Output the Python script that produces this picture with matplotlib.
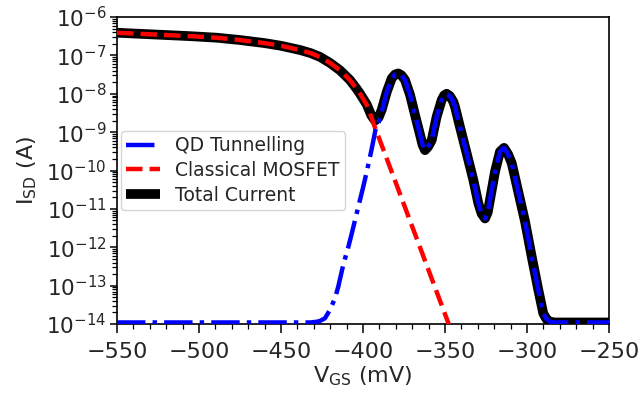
import numpy as np
import matplotlib
matplotlib.use("Agg")
import matplotlib.pyplot as plt
from matplotlib.ticker import MultipleLocator, LogLocator, NullFormatter, FixedLocator

# ---- data (log10 of current in A) ----
v_total = [-550, -520, -505, -489, -475, -460, -450, -438.4, -432, -426.2, -420, -414,
           -408, -403.9, -401.8, -397.7,
           -395, -392.7, -390.5, -388.6, -385.5, -382.5, -380.5, -378.5, -376.5,
           -374.4, -371.3, -368.3, -365.2, -363.7, -362.2, -360.3, -358.1, -355.1,
           -352, -350.5, -349, -347, -344.9, -343.9, -340.9, -336.8, -332.7, -329.7,
           -327.7, -325.6, -324, -322.6, -319.5, -316.5, -314, -311.5, -309.3, -305.3,
           -301.2, -297.1, -293.1, -290.1, -288, -286, -283, -250]
log_total = [-6.41, -6.47, -6.50, -6.54, -6.60, -6.68, -6.75, -6.86, -6.94, -7.04, -7.20, -7.39,
             -7.64, -7.87, -8.00, -8.28,
             -8.56, -8.70, -8.62, -8.42, -7.95, -7.60, -7.50, -7.47, -7.52,
             -7.64, -8.03, -8.55, -9.07, -9.33, -9.47, -9.38, -9.21, -8.60,
             -8.16, -8.04, -8.00, -8.06, -8.21, -8.34, -8.86, -9.55, -10.25, -10.85,
             -11.12, -11.25, -11.10, -10.77, -10.03, -9.51, -9.41, -9.58, -9.81, -10.56,
             -11.33, -12.25, -13.11, -13.72, -13.88, -13.94, -13.96, -13.96]

v_qd = [-550, -432, -428, -426.2, -423.2, -420.1, -417, -415.1, -412, -409, -406.9,
        -404.9, -402.9, -400, -397.7, -395, -392.1, -390.5, -388.6, -385.5, -382.5,
        -380.5, -378.5, -376.5, -374.4, -371.3, -368.3, -365.2, -363.7, -362.2,
        -360.3, -358.1, -355.1, -352, -350.5, -349, -347, -344.9, -343.9, -340.9,
        -336.8, -332.7, -329.7, -327.7, -325.6, -324, -322.6, -319.5, -316.5, -314,
        -311.5, -309.3, -305.3, -301.2, -297.1, -293.1, -290.1, -288, -286, -283, -250]
log_qd = [-13.96, -13.96, -13.94, -13.92, -13.85, -13.63, -13.32, -13.03, -12.45, -12.0,
          -11.65, -11.30, -10.95, -10.45, -10.03, -9.50, -8.88, -8.75, -8.47, -7.96, -7.60,
          -7.50, -7.47, -7.52, -7.64, -8.03, -8.55, -9.07, -9.33, -9.47,
          -9.38, -9.21, -8.60, -8.16, -8.04, -8.00, -8.06, -8.21, -8.34, -8.86,
          -9.55, -10.25, -10.85, -11.12, -11.25, -11.10, -10.77, -10.03, -9.51, -9.41,
          -9.58, -9.81, -10.56, -11.33, -12.25, -13.11, -13.72, -13.88, -13.94, -13.96, -13.96]

v_cl = [-550, -520, -505, -489, -475, -460, -450, -438.4, -432, -426.2, -420, -414,
        -408, -403.9, -401.8, -397.7, -395, -392.7, -390, -380, -370, -360, -348, -340]
log_cl = [-6.41, -6.47, -6.50, -6.54, -6.60, -6.68, -6.75, -6.86, -6.94, -7.04, -7.20, -7.39,
          -7.64, -7.87, -8.00, -8.29, -8.60, -8.88, -9.18, -10.32, -11.46, -12.60, -13.97, -14.90]

labels = ["QD Tunnelling", "Classical MOSFET", "Total Current"]
xticks = [-550, -500, -450, -400, -350, -300, -250]
ytick_exponents = [-14, -13, -12, -11, -10, -9, -8, -7, -6]

text_color = "#262626"
plt.rcParams["font.family"] = ["DejaVu Sans"]

fig = plt.figure(figsize=(6.43, 3.95), dpi=100)
ax = fig.add_axes([117 / 643, 1 - 324 / 395, (609 - 117) / 643, (324 - 17) / 395])

h_tot, = ax.plot(v_total, 10 ** np.array(log_total), color="black", lw=7,
                 solid_capstyle="butt", solid_joinstyle="round", zorder=2, label=labels[2])
h_cl, = ax.plot(v_cl, 10 ** np.array(log_cl), color="red", lw=3.2, ls="--",
                dash_joinstyle="round", zorder=3, label=labels[1])
h_qd, = ax.plot(v_qd, 10 ** np.array(log_qd), color="blue", lw=3.2, ls="-.",
                dash_joinstyle="round", zorder=4, label=labels[0])

ax.set_yscale("log")
ax.set_xlim(-550, -250)
ax.set_ylim(1e-14, 1e-6)
ax.set_xticks(xticks)
ax.xaxis.set_minor_locator(MultipleLocator(10))
ax.set_yticks([10.0 ** e for e in ytick_exponents],
              [rf"$\mathdefault{{10^{{{e}}}}}$" for e in ytick_exponents])
minor_y = [m * 10.0 ** e for e in ytick_exponents[:-1] for m in range(2, 10)]
ax.yaxis.set_minor_locator(FixedLocator(minor_y))
ax.yaxis.set_minor_formatter(NullFormatter())

ax.tick_params(which="major", width=1.1, colors="black",
               labelcolor=text_color, direction="out")
ax.tick_params(axis="x", which="major", length=6.5, pad=6.5, labelsize=16)
ax.tick_params(axis="y", which="major", length=5, pad=2.5, labelsize=15.5)
ax.tick_params(which="minor", length=3.5, width=0.9, colors="black", direction="out")
for s in ax.spines.values():
    s.set_linewidth(1.2)
    s.set_color("black")

ax.set_xlabel(r"V$_{\rm GS}$ (mV)", fontsize=16, color=text_color, labelpad=2)
ax.set_ylabel(r"I$_{\rm SD}$ (A)", fontsize=16, color=text_color, labelpad=5)

leg = ax.legend([h_qd, h_cl, h_tot], labels, loc="center left",
                bbox_to_anchor=(0.0, 0.5), borderaxespad=0.2, fontsize=13.5,
                labelspacing=0.3, handlelength=1.8, borderpad=0.3)
for t in leg.get_texts():
    t.set_color(text_color)

fig.savefig("out.png", dpi=100)
